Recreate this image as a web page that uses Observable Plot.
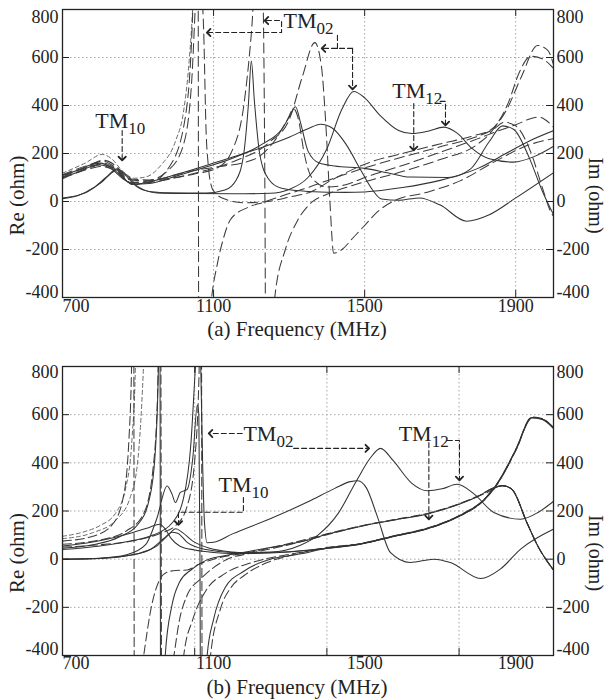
<!DOCTYPE html>
<html><head><meta charset="utf-8">
<script src="https://cdn.jsdelivr.net/npm/d3@7"></script>
<script src="https://cdn.jsdelivr.net/npm/@observablehq/plot@0.6"></script>
<style>
body{margin:0;background:#fff;}
#chart{width:606px;}
#chart svg{display:block;}
#chart svg, #chart svg text{font-family:"Liberation Serif","Times New Roman",serif !important;}
</style></head><body><div id="chart"></div>
<script>
// ---------- axis ticks ----------
const xTickLabels = [1100, 1500, 1900];
const xFirstLabel = [700];
const yMidTicks = [-200, 0, 200, 400, 600];
const gridA = [1100, 1500, 1900];
const gridB = [1050, 1400, 1750];

// ---------- panel (a) curves: [frequency MHz, ohm] ----------
const aSolid1 = [[700,12],[740,24],[780,55],[815,100],[845,136],[868,108],[893,66],[930,42],[1000,35],[1080,35],[1130,48],[1160,90],[1180,200],[1192,400],[1200,585],[1208,420],[1222,200],[1245,95],[1280,55],[1350,42],[1450,38],[1500,40],[1600,58],[1700,88],[1800,138],[1880,205],[1940,255],[2000,295]];
const aSolid2 = [[700,108],[740,130],[780,155],[800,160],[830,140],[860,100],[885,72],[930,75],[1000,105],[1065,136],[1150,180],[1230,240],[1280,300],[1303,360],[1317,395],[1330,330],[1350,210],[1380,160],[1420,148],[1500,138],[1560,120],[1620,102],[1720,100],[1780,135],[1830,250],[1865,315],[1895,300],[1935,185],[1970,45],[2000,-55]];
const aSolid3 = [[700,100],[740,122],[780,148],[800,152],[830,135],[860,95],[890,72],[950,90],[1000,112],[1100,160],[1200,210],[1300,268],[1350,303],[1383,322],[1415,305],[1450,240],[1490,130],[1520,50],[1545,10],[1590,5],[1645,15],[1700,-15],[1770,-82],[1830,-55],[1900,15],[2000,120]];
const aSolid4 = [[700,15],[760,36],[800,76],[847,132],[872,108],[900,62],[950,36],[1050,33],[1150,32],[1250,34],[1300,50],[1350,100],[1400,220],[1440,385],[1471,458],[1500,432],[1540,360],[1590,296],[1625,283],[1670,294],[1709,310],[1745,285],[1785,220],[1830,178],[1894,164],[1950,188],[2000,230]];
const aDash1 = [[700,118],[760,160],[805,196],[830,178],[860,125],[890,97],[920,102],[960,150],[1000,255],[1020,370],[1035,580],[1046,850],[1052,1100]];
const aDash2 = [[700,110],[760,140],[805,168],[840,142],[875,92],[920,86],[980,130],[1020,235],[1042,500],[1055,900],[1062,1000],[1068,900],[1074,700],[1080,300],[1086,150],[1095,60],[1102,40],[1130,10],[1180,-5],[1242,0],[1300,18],[1357,40],[1418,94],[1515,164],[1600,200],[1700,240],[1790,275],[1835,300],[1875,380],[1915,520],[1958,650],[1985,630],[2000,570]];
const aDash3 = [[700,100],[780,145],[810,160],[845,130],[880,80],[930,80],[985,150],[1025,350],[1045,800],[1058,1800],[1062,-1800],[1080,-700],[1095,-400],[1110,-260],[1125,-160],[1145,-75],[1190,-25],[1233,-3],[1290,28],[1350,58],[1420,98],[1500,140],[1600,185],[1700,228],[1800,272],[1840,300],[1870,330],[1900,315],[1940,205],[1970,60],[1995,-50],[2000,-60]];
const aDash4 = [[700,102],[780,150],[800,155],[840,135],[880,78],[950,90],[1050,115],[1110,140],[1150,215],[1180,400],[1200,700],[1218,1100],[1230,900],[1236,0],[1240,-1500],[1262,-400],[1290,-200],[1320,-86],[1360,-3],[1400,30],[1450,58],[1500,82],[1600,125],[1700,175],[1800,240],[1835,290],[1880,410],[1910,540],[1940,605],[1970,595],[2000,555]];
const aDash5 = [[700,95],[780,140],[800,146],[845,125],[885,72],[950,84],[1050,118],[1150,165],[1250,250],[1300,340],[1335,520],[1368,662],[1385,570],[1398,300],[1408,0],[1418,-215],[1440,-200],[1470,-150],[1500,-100],[1533,-44],[1577,2],[1666,39],[1754,87],[1842,164],[1930,233],[2000,262]];
const aDash6 = [[700,112],[780,158],[808,172],[840,150],[875,95],[930,90],[1050,130],[1100,142],[1206,175],[1260,250],[1295,340],[1312,386],[1325,340],[1340,200],[1360,100],[1400,60],[1450,70],[1500,100],[1600,150],[1700,205],[1800,262],[1850,292],[1900,320],[1960,352],[2000,310]];

// ---------- panel (b) curves ----------
const bSolid1 = [[700,55],[760,66],[820,84],[880,108],[930,132],[957,145],[972,125],[988,85],[1010,55],[1050,38],[1100,28],[1150,24],[1200,24],[1300,30],[1400,44],[1489,62],[1580,95],[1666,126],[1754,181],[1815,243],[1842,292],[1870,360],[1900,455],[1943,588],[1970,582],[2000,545]];
const bSolid2 = [[700,0],[790,3],[860,12],[910,28],[950,55],[980,100],[1000,126],[1018,110],[1045,75],[1090,45],[1150,30],[1200,26],[1300,31],[1400,45],[1489,63],[1580,96],[1666,127],[1754,182],[1815,244],[1842,293],[1865,306],[1890,290],[1930,150],[1960,50],[2000,-45]];
const bSolid3 = [[700,0],[800,4],[870,18],[920,60],[950,170],[977,304],[990,270],[999,235],[1012,277],[1030,290],[1045,420],[1057,640],[1061,600],[1064,0],[1067,-1500],[1083,-400],[1100,-250],[1130,-120],[1180,-50],[1250,0],[1300,14],[1350,28],[1400,46],[1489,64],[1580,97],[1666,128],[1754,183],[1815,245],[1842,294],[1900,452],[1943,586],[1970,580],[2000,542]];
const bSolid4 = [[700,40],[800,55],[880,75],[940,100],[990,150],[1020,250],[1040,480],[1052,800],[1060,1000],[1066,800],[1071,400],[1076,150],[1083,68],[1100,70],[1150,105],[1250,168],[1350,238],[1420,293],[1462,322],[1482,326],[1505,295],[1533,180],[1568,28],[1621,-14],[1683,0],[1727,-14],[1807,-80],[1860,-40],[1913,42],[2000,125]];
const bSolid5 = [[700,0],[800,3],[870,14],[930,38],[970,88],[990,112],[1005,108],[1030,70],[1080,40],[1150,28],[1250,30],[1330,58],[1374,97],[1430,190],[1480,330],[1515,420],[1542,460],[1575,410],[1625,315],[1666,284],[1705,292],[1745,311],[1790,270],[1842,194],[1913,166],[1960,195],[2000,240]];
const bSolid6 = [[700,45],[780,60],[850,92],[900,145],[930,250],[945,430],[954,800],[957,1600],[961,-1600],[972,-400],[990,-190],[1010,-95],[1040,-45],[1080,-5],[1150,20],[1250,48],[1350,80],[1400,103],[1489,136],[1580,163],[1666,188],[1750,228],[1800,260],[1842,297],[1865,305],[1890,290],[1930,150],[1960,50],[2000,-45]];
const bDash1 = [[700,95],[760,115],[800,140],[840,190],[868,300],[884,500],[893,800],[898,1300]];
const bDash2 = [[700,75],[780,95],[830,140],[860,250],[876,500],[884,900],[888,1600],[891,-1600],[906,-500],[915,-400],[935,-200],[955,-92],[975,-55],[1000,-47],[1030,-45],[1060,-22],[1100,0],[1200,30],[1300,65],[1400,105],[1489,138],[1580,165],[1666,190],[1750,230],[1800,262],[1842,296],[1865,305],[1890,290],[1930,150],[1960,50],[2000,-45]];
const bDash3 = [[700,62],[800,80],[870,118],[915,190],[940,380],[952,700],[959,1500],[964,-1500],[985,-500],[995,-400],[1010,-250],[1030,-150],[1065,-83],[1100,-35],[1136,0],[1200,25],[1300,60],[1400,101],[1489,137],[1580,164],[1666,189],[1750,229],[1800,261],[1842,297],[1900,455],[1943,590],[1970,584],[2000,547]];
const bDash4 = [[700,50],[800,60],[900,80],[960,108],[1000,140],[1030,220],[1050,410],[1062,800],[1067,1500],[1071,-1500],[1080,-700],[1092,-400],[1118,-208],[1150,-110],[1180,-69],[1242,-14],[1300,14],[1400,48],[1489,65],[1580,98],[1666,129],[1754,184],[1815,246],[1842,291],[1900,450],[1943,588],[1970,582],[2000,544]];
const bDash5 = [[700,85],[780,110],[840,160],[880,260],[900,420],[910,650],[917,900],[925,1300]];
const bDash6 = [[1015,-900],[1021,-400],[1045,-250],[1080,-130],[1130,-60],[1200,-15],[1300,20],[1400,45],[1489,63],[1580,96],[1666,126],[1754,181],[1815,243],[1842,292],[1865,305],[1890,290],[1930,150],[1960,50],[2000,-45]];

// ---------- annotations ----------
const annoA = [{f:787,v:308,main:"TM",sub:"10"},{f:1285,v:721,main:"TM",sub:"02"},{f:1573,v:433,main:"TM",sub:"12"}];
const annoB = [{f:1113,v:277,main:"TM",sub:"10"},{f:1179,v:489,main:"TM",sub:"02"},{f:1590,v:489,main:"TM",sub:"12"}];
const leadersA = [
  [[858,296],[858,179]],
  [[1240,754],[1280,754],[1280,704],[1087,704]],
  [[1428,692],[1428,638]],
  [[1468,638],[1391,638]],
  [[1468,638],[1468,475]],
  [[1630,408],[1630,221]],
  [[1700,417],[1714,417],[1714,325]]
];
const headsA = [
  [[858,296],[858,179]],
  [[1280,754],[1240,754]],
  [[1280,704],[1087,704]],
  [[1468,638],[1391,638]],
  [[1468,638],[1468,475]],
  [[1630,408],[1630,221]],
  [[1714,417],[1714,325]]
];
const leadersB = [
  [[1179,256],[1179,195],[1007,195],[1007,150]],
  [[1176,522],[1092,522]],
  [[1312,460],[1507,460]],
  [[1670,484],[1670,173]],
  [[1719,493],[1751,493],[1751,335]]
];
const headsB = [
  [[1007,195],[1007,150]],
  [[1176,522],[1092,522]],
  [[1312,460],[1507,460]],
  [[1670,484],[1670,173]],
  [[1751,493],[1751,335]]
];

const FONT = "Liberation Serif";
const INK = "#222";
const SOLID = {stroke:"#333", width:1.05, dash:null};
const LONG = {stroke:"#3c3c3c", width:1.05, dash:"10,5"};
const SHORT = {stroke:"#6a6a6a", width:1, dash:"4,3"};
const BLONG = {stroke:"#3c3c3c", width:1.05, dash:"9,4"};
const fmt = d => String(d);

function panel(cfg) {
  const X = d => d[0], Y = d => d[1];
  const gridStyle = {stroke:"#9a9a9a", strokeWidth:0.9, strokeDasharray:"1.5,2.5"};
  const tx = {fontFamily:FONT, fill:INK};
  const marks = [
    Plot.ruleY(yMidTicks, gridStyle),
    Plot.ruleX(cfg.grid, gridStyle),
    ...cfg.curves.map(([data, s]) => Plot.line(data, {x:X, y:Y, stroke:s.stroke, strokeWidth:s.width, strokeDasharray:s.dash, curve:"monotone-x", clip:true})),
    // inward ticks
    Plot.ruleY(yMidTicks, {x1:700, x2:718.5, stroke:INK}),
    Plot.ruleY(yMidTicks, {x1:1981.5, x2:2000, stroke:INK}),
    Plot.ruleX(cfg.grid, {y1:-400, y2:-371, stroke:INK}),
    Plot.ruleX(cfg.grid, {y1:771, y2:800, stroke:INK}),
    Plot.frame({stroke:INK, strokeWidth:1.3}),
    // axes
    Plot.axisX(xTickLabels, {anchor:"bottom", tickSize:0, tickPadding:cfg.xPad, fontSize:18, tickFormat:fmt, label:null, ...tx}),
    Plot.axisX(xFirstLabel, {anchor:"bottom", tickSize:0, tickPadding:cfg.xPad, fontSize:18, tickFormat:fmt, textAnchor:"start", label:null, ...tx}),
    Plot.axisY(yMidTicks, {anchor:"left", tickSize:0, tickPadding:4, fontSize:18, tickFormat:fmt, label:null, ...tx}),
    Plot.axisY([800], {anchor:"left", tickSize:0, tickPadding:4, fontSize:18, tickFormat:fmt, dy:cfg.dyTop, label:null, ...tx}),
    Plot.axisY([-400], {anchor:"left", tickSize:0, tickPadding:4, fontSize:18, tickFormat:fmt, dy:cfg.dyBot, label:null, ...tx}),
    Plot.axisY(yMidTicks, {anchor:"right", tickSize:0, tickPadding:3, fontSize:18, tickFormat:fmt, label:null, ...tx}),
    Plot.axisY([800], {anchor:"right", tickSize:0, tickPadding:3, fontSize:18, tickFormat:fmt, dy:cfg.dyTop, label:null, ...tx}),
    Plot.axisY([-400], {anchor:"right", tickSize:0, tickPadding:3, fontSize:18, tickFormat:fmt, dy:cfg.dyBot, label:null, ...tx}),
    // titles
    Plot.text([cfg.title], {frameAnchor:"bottom", dx:-11, dy:38, lineAnchor:"bottom", textAnchor:"middle", fontSize:21, ...tx}),
    Plot.text(["Re (ohm)"], {frameAnchor:"left", dx:-45, dy:42, rotate:-90, textAnchor:"middle", lineAnchor:"middle", fontSize:21, ...tx}),
    Plot.text(["Im (ohm)"], {frameAnchor:"right", dx:42, dy:42, rotate:90, textAnchor:"middle", lineAnchor:"middle", fontSize:20, ...tx}),
    // annotations
    ...cfg.leaders.map(p => Plot.line(p, {x:X, y:Y, stroke:INK, strokeWidth:1.1, strokeDasharray:"5,3"})),
    Plot.link(cfg.heads, {
      x1: d => d[1][0] - 0.01 * (d[1][0] - d[0][0]),
      y1: d => d[1][1] - 0.01 * (d[1][1] - d[0][1]),
      x2: d => d[1][0], y2: d => d[1][1],
      stroke: INK, strokeWidth: 1.8, markerEnd: "arrow"
    }),
    Plot.text(cfg.anno, {x:"f", y:"v", text:"main", textAnchor:"start", lineAnchor:"bottom", fontSize:22, ...tx}),
    Plot.text(cfg.anno, {x:"f", y:"v", text:"sub", textAnchor:"start", lineAnchor:"bottom", fontSize:17, dx:33, dy:6, ...tx})
  ];
  return Plot.plot({
    width: 606, height: cfg.height,
    marginLeft: 62, marginRight: 53, marginTop: cfg.mt, marginBottom: cfg.mb,
    x: {domain:[700, 2000]},
    y: {domain:[-400, 800]},
    style: {background: "white", color: INK},
    marks
  });
}

const curvesA = [
  [aSolid1, SOLID], [aSolid2, SOLID], [aSolid3, SOLID], [aSolid4, SOLID],
  [aDash1, SHORT], [aDash2, LONG], [aDash3, LONG], [aDash4, LONG], [aDash5, LONG], [aDash6, LONG]
];
const curvesB = [
  [bDash1, SHORT], [bDash5, SHORT],
  [bDash2, BLONG], [bDash3, BLONG], [bDash4, BLONG], [bDash6, BLONG],
  [bSolid1, SOLID], [bSolid2, SOLID], [bSolid3, SOLID], [bSolid4, SOLID], [bSolid5, SOLID], [bSolid6, SOLID]
];

const root = document.getElementById("chart");
root.append(panel({curves:curvesA, grid:gridA, title:"(a) Frequency (MHz)", anno:annoA, leaders:leadersA, heads:headsA,
  height:340, mt:9, mb:43, xPad:2, dyTop:8, dyBot:-5}));
root.append(panel({curves:curvesB, grid:gridB, title:"(b) Frequency (MHz)", anno:annoB, leaders:leadersB, heads:headsB,
  height:360, mt:26, mb:45, xPad:1, dyTop:6, dyBot:-6}));
</script>
</body></html>
